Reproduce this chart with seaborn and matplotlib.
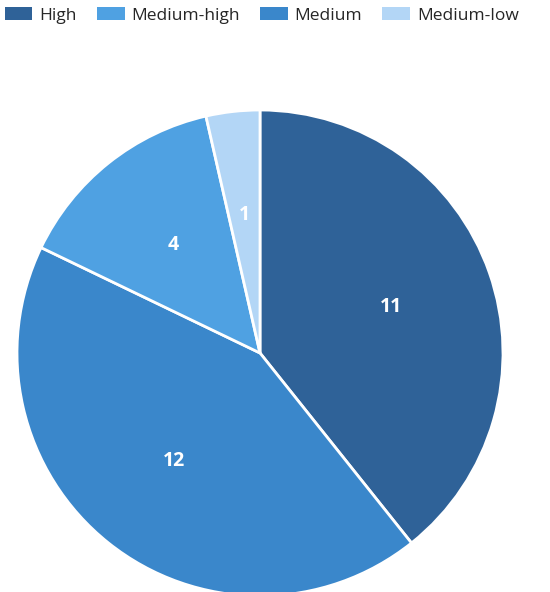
import matplotlib
matplotlib.use("Agg")
import matplotlib.pyplot as plt
from matplotlib.patches import Patch
import seaborn as sns

# pie order (clockwise from the top)
categories = ["High", "Medium", "Medium-high", "Medium-low"]
counts = [11, 12, 4, 1]
legend_order = ["High", "Medium-high", "Medium", "Medium-low"]
colors = {"High": "#2f6298", "Medium-high": "#4fa1e2", "Medium": "#3a87cb", "Medium-low": "#b3d6f6"}

sns.set_theme(style="white")
plt.rcParams['font.family'] = ['Open Sans', 'DejaVu Sans']

fig = plt.figure(figsize=(5.5, 5.92), dpi=100)
ax = fig.add_axes([17/550, -4/592, 486/550, 486/592])

palette = [colors[c] for c in categories]
wedges, texts, autotexts = ax.pie(
    counts, colors=palette, startangle=90, counterclock=False,
    autopct=lambda p: f"{round(p * sum(counts) / 100):d}", pctdistance=0.57,
    wedgeprops=dict(edgecolor="white", linewidth=2),
    textprops=dict(color="white", fontsize=14, fontweight="bold"))
ax.set_xlim(-1, 1)
ax.set_ylim(-1, 1)
ax.set_aspect("equal")
ax.axis("off")

handles = [Patch(facecolor=colors[c], edgecolor="none", label=c) for c in legend_order]
fig.legend(handles=handles, loc="upper center", bbox_to_anchor=(0.476, 1.014), ncol=4,
           frameon=False, fontsize=12.5, handlelength=1.6, handleheight=0.75,
           columnspacing=1.15, handletextpad=0.4)

fig.savefig("out.png", dpi=100, facecolor="white")
